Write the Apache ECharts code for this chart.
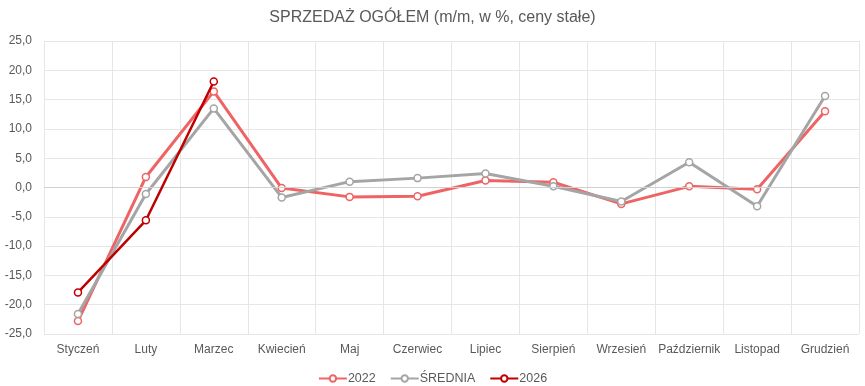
<!DOCTYPE html>
<html><head><meta charset="utf-8">
<script src="https://cdn.jsdelivr.net/npm/echarts@6/dist/echarts.min.js"></script>
<style>html,body{margin:0;padding:0;background:#fff}#c{width:865px;height:386px}</style>
</head><body><div id="c"></div>
<script>
const categories = ["Styczeń","Luty","Marzec","Kwiecień","Maj","Czerwiec","Lipiec","Sierpień","Wrzesień","Październik","Listopad","Grudzień"];
const s2022 = [-22.8, 1.8, 16.4, -0.1, -1.6, -1.5, 1.2, 0.9, -2.8, 0.2, -0.3, 13.0];
const sSrednia = [-21.6, -1.1, 13.5, -1.7, 1.0, 1.6, 2.4, 0.2, -2.4, 4.3, -3.2, 15.6];
const s2026 = [-17.9, -5.6, 18.1];
const yTicks = {min: -25, max: 25, interval: 5};

const chart = echarts.init(document.getElementById('c'));
const txt = '#595959';
function ser(name, data, color, w) {
  return {name, type:'line', data, symbol:'circle', symbolSize:7,
    lineStyle:{color, width:w}, itemStyle:{color:'#fff', borderColor:color, borderWidth:1.5},
    emphasis:{disabled:true}, z: name==='2026'?5:3};
}
chart.setOption({
  animation:false,
  title:{text:'SPRZEDAŻ OGÓŁEM (m/m, w %, ceny stałe)', left:'center', top:5,
    textStyle:{fontFamily:'Liberation Sans, Arial', fontSize:16, fontWeight:'normal', color:txt}},
  legend:{top:367, left:'center', itemWidth:28, itemHeight:8, itemGap:14,
    textStyle:{fontFamily:'Liberation Sans, Arial', fontSize:12.5, color:txt, padding:[0,0,0,-4]},
    data:[{name:'2022'},{name:'ŚREDNIA'},{name:'2026'}]},
  grid:{left:44, right:6, top:41, bottom:52, containLabel:false},
  xAxis:{type:'category', data:categories, boundaryGap:true,
    axisLine:{show:false}, axisTick:{show:false},
    splitLine:{show:true, lineStyle:{color:'#E6E6E6'}},
    axisLabel:{interval:0, color:txt, fontFamily:'Liberation Sans, Arial', fontSize:12, margin:10}},
  yAxis:{type:'value', min:yTicks.min, max:yTicks.max, interval:yTicks.interval,
    axisLine:{show:false}, axisTick:{show:false},
    splitLine:{lineStyle:{color:'#E6E6E6'}},
    axisLabel:{color:txt, fontFamily:'Liberation Sans, Arial', fontSize:12, margin:12,
      formatter:v=>v.toFixed(1).replace('.',',')}},
  series:[
    Object.assign(ser('2022', s2022, '#EE6464', 3), {markLine:{silent:true, symbol:'none', label:{show:false}, lineStyle:{color:'#D0D0D0', type:'solid', width:1}, data:[{yAxis:0}]}}),
    ser('ŚREDNIA', sSrednia, '#A5A5A5', 3),
    ser('2026', s2026, '#C00000', 2.5)
  ]
});
</script></body></html>
